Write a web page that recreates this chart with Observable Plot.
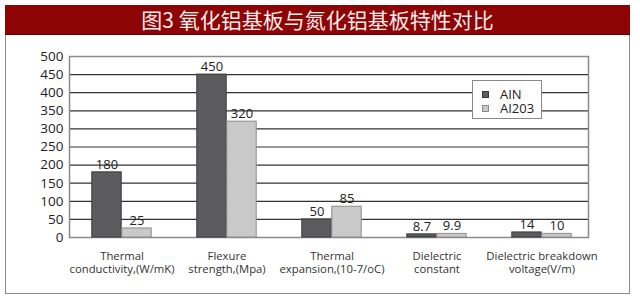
<!DOCTYPE html>
<html>
<head>
<meta charset="utf-8">
<script src="https://cdn.jsdelivr.net/npm/d3@7"></script>
<script src="https://cdn.jsdelivr.net/npm/@observablehq/plot@0.6"></script>
<style>
  html, body { margin: 0; padding: 0; background: #fff; }
  #wrap { position: relative; width: 640px; height: 297px; overflow: hidden; font-family: "Open Sans", sans-serif; }
  #panel { position: absolute; left: 5px; top: 33px; width: 623px; height: 259px; border: 1.5px solid #8a8a8a; background: #fff; }
  #banner { position: absolute; left: 5px; top: 5px; width: 625px; height: 29px; background: #8e0303;
            border-bottom: 1px solid #5e0000; color: #f8ecec; font-family: "Noto Sans CJK SC", sans-serif;
            font-size: 21px; line-height: 29px; text-align: center; }
  #chart { position: absolute; left: 0; top: 0; }
  #legend { position: absolute; left: 472px; top: 80px; width: 70px; height: 39px; border: 1px solid #8a8a8a;
            background: #fff; box-sizing: border-box; padding: 6px 0 0 9px; font-size: 13px; color: #222; }
  #legend .item { display: flex; align-items: center; height: 14px; line-height: 14px; }
  #legend .sw { width: 7px; height: 7px; margin-right: 11px; box-sizing: border-box; }
</style>
</head>
<body>
<div id="wrap">
  <div id="panel"></div>
  <div id="chart"></div>
  <div id="legend"></div>
  <div id="banner"></div>
</div>
<script>
const title = "图3 氧化铝基板与氮化铝基板特性对比";
const categories = [
  "Thermal\nconductivity,(W/mK)",
  "Flexure\nstrength,(Mpa)",
  "Thermal\nexpansion,(10-7/oC)",
  "Dielectric\nconstant",
  "Dielectric breakdown\nvoltage(V/m)"
];
const seriesNames = ["AIN", "AI203"];
const ainValues = [180, 450, 50, 8.7, 14];
const al2o3Values = [25, 320, 85, 9.9, 10];
const yTicks = [0, 50, 100, 150, 200, 250, 300, 350, 400, 450, 500];

const fills = {"AIN": "#5c5c5e", "AI203": "#c9c9c9"};
const strokes = {"AIN": "#3a3a3a", "AI203": "#8c8c8c"};

const rows = [];
categories.forEach((c, i) => {
  rows.push({category: c, series: seriesNames[0], value: ainValues[i]});
  rows.push({category: c, series: seriesNames[1], value: al2o3Values[i]});
});
const ainRows = rows.filter(d => d.series === "AIN");
const alRows = rows.filter(d => d.series === "AI203");

// x bands: each category holds a pair of 30px bars side by side
const xRange = [67, 595];
const band = (xRange[1] - xRange[0]) / categories.length;
const barW = 30;
const outer = band / 2 - barW;

document.getElementById("banner").textContent = title;

const chart = Plot.plot({
  width: 640,
  height: 297,
  marginLeft: 69,
  marginRight: 52,
  marginTop: 56,
  marginBottom: 60,
  style: {background: "transparent", fontFamily: "'Open Sans', sans-serif", fontSize: "13px", color: "#222"},
  x: {type: "band", domain: categories, range: xRange, padding: 0, label: null},
  y: {domain: [0, 500], label: null},
  marks: [
    Plot.ruleY(yTicks.filter(t => t > 0 && t < 500), {stroke: "#333", strokeWidth: 1.2}),
    Plot.frame({stroke: "#8a8a8a", strokeWidth: 1.5}),
    Plot.barY(ainRows, {x: "category", y: "value", fill: d => fills[d.series], stroke: d => strokes[d.series],
      strokeWidth: 1, insetLeft: outer, insetRight: band / 2}),
    Plot.barY(alRows, {x: "category", y: "value", fill: d => fills[d.series], stroke: d => strokes[d.series],
      strokeWidth: 1, insetLeft: band / 2, insetRight: outer}),
    Plot.text(ainRows, {x: "category", y: "value", text: d => String(d.value), dx: -barW / 2, dy: -8,
      fontSize: 13, fill: "#222"}),
    Plot.text(alRows, {x: "category", y: "value", text: d => String(d.value), dx: barW / 2, dy: -8,
      fontSize: 13, fill: "#222"}),
    Plot.axisY({ticks: yTicks, tickSize: 0, tickPadding: 6, fontSize: 13.5, fill: "#222", label: null}),
    Plot.axisX({tickSize: 0, tickPadding: 13.5, fontSize: 11.3, lineHeight: 1.13, fill: "#333", label: null})
  ]
});
document.getElementById("chart").appendChild(chart);

// legend
const legend = document.getElementById("legend");
seriesNames.forEach(name => {
  const item = document.createElement("div");
  item.className = "item";
  const sw = document.createElement("span");
  sw.className = "sw";
  sw.style.background = fills[name];
  sw.style.border = "1px solid " + strokes[name];
  const label = document.createElement("span");
  label.textContent = name;
  item.appendChild(sw);
  item.appendChild(label);
  legend.appendChild(item);
});
</script>
</body>
</html>
